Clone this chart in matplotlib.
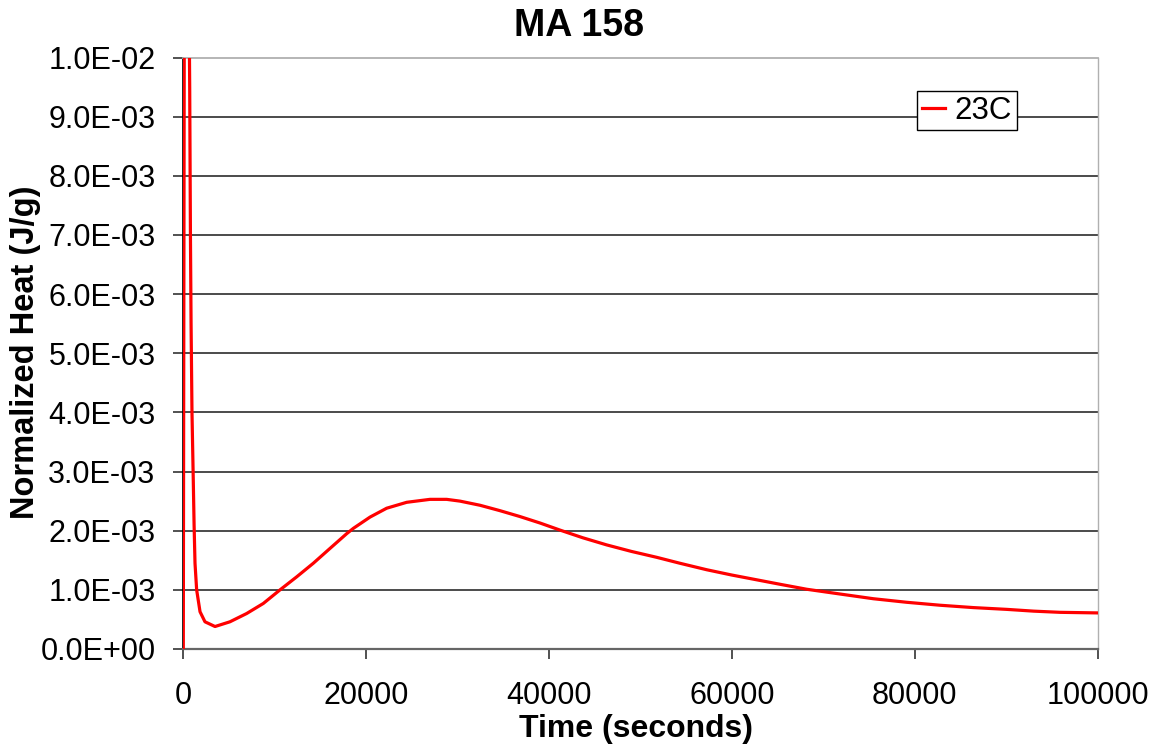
import matplotlib
matplotlib.use("Agg")
import matplotlib.pyplot as plt
from matplotlib.ticker import FuncFormatter, MultipleLocator

# Data
time_s = [0, 20, 60, 120, 300, 500, 650, 700, 780, 850, 950, 1090, 1180, 1280,
          1460, 1830, 2370, 3470, 5100, 6930, 8750, 10580, 12400, 14220, 16040,
          17870, 18600, 20420, 22240, 24430, 26980, 28800, 30260, 32450, 34600,
          36800, 39010, 41200, 43700, 46300, 49000, 51770, 54300, 57240, 60000,
          62700, 65400, 68180, 71800, 75460, 79100, 82750, 86400, 90050, 93000,
          95880, 100000]
heat_23c = [0.0, 0.002, 0.006, 0.012, 0.0135, 0.013, 0.0105, 0.0095, 0.007,
            0.0055, 0.004, 0.00286, 0.0021, 0.00145, 0.0010, 0.00063, 0.00046,
            0.00038, 0.00046, 0.0006, 0.00077, 0.0010, 0.00122, 0.00145,
            0.0017, 0.00195, 0.00204, 0.00223, 0.00238, 0.00248, 0.00253,
            0.00253, 0.0025, 0.00243, 0.00234, 0.00224, 0.00213, 0.00201,
            0.00188, 0.00176, 0.00165, 0.00155, 0.00145, 0.00134, 0.00125,
            0.00117, 0.00109, 0.00101, 0.00093, 0.00085, 0.00079, 0.00074,
            0.0007, 0.00067, 0.00064, 0.00062, 0.00061]
series_label = "23C"
title = "MA 158"
x_label = "Time (seconds)"
y_label = "Normalized Heat (J/g)"

plt.rcParams['font.family'] = ['Liberation Sans', 'DejaVu Sans']

fig = plt.figure(figsize=(11.57, 7.5), dpi=100)
ax = fig.add_axes([183.3 / 1157, 1 - 649 / 750, (1097.7 - 183.3) / 1157, (649 - 57.5) / 750])

ax.plot(time_s, heat_23c, color='#ff0000', lw=2.3, label=series_label, zorder=3,
        solid_joinstyle='round')

ax.set_xlim(0, 100000)
ax.set_ylim(0, 0.01)
ax.xaxis.set_major_locator(MultipleLocator(20000))
ax.yaxis.set_major_locator(MultipleLocator(0.001))
ax.yaxis.set_major_formatter(FuncFormatter(lambda v, p: f"{v:.1E}"))
ax.xaxis.set_major_formatter(FuncFormatter(lambda v, p: f"{int(round(v))}"))

for yv in [i * 0.001 for i in range(1, 10)]:
    ax.axhline(yv, color='#1a1a1a', lw=1.1, zorder=1)

ax.spines['left'].set_color('black')
ax.spines['left'].set_linewidth(1.2)
ax.spines['bottom'].set_color('#666666')
ax.spines['bottom'].set_linewidth(1.6)
ax.spines['top'].set_color('#b0b0b0')
ax.spines['top'].set_linewidth(1.3)
ax.spines['right'].set_color('#b0b0b0')
ax.spines['right'].set_linewidth(1.0)

ax.tick_params(axis='both', direction='out', length=7, width=1.1, color='#222222',
               labelsize=22, pad=13)
ax.tick_params(axis='x', pad=16)

fig.suptitle(title, x=0.5, y=1 - 8 / 750, va='top', fontsize=27, fontweight='bold')
ax.set_xlabel(x_label, fontsize=23, fontweight='bold', labelpad=0)
ax.xaxis.set_label_coords((636 - 183.3) / 914.4, -(729 - 649) / 591.5)
ax.xaxis.label.set_va('center')
ax.set_ylabel(y_label, fontsize=23.5, fontweight='bold')
ax.yaxis.set_label_coords(-(183.3 - 26) / 914.4, (649 - 352) / 591.5)
ax.yaxis.label.set_va('center')

leg = ax.legend(loc='upper left', bbox_to_anchor=((917 - 183.3) / 914.4, 1 - (91 - 57.5) / 591.5),
                fontsize=22.5, frameon=True, fancybox=False, handlelength=0.75,
                handletextpad=0.3, borderpad=0.15, borderaxespad=0)
leg.get_frame().set_edgecolor('black')
leg.get_frame().set_linewidth(1.0)
leg.get_frame().set_alpha(1)

fig.savefig("out.png", dpi=100)
